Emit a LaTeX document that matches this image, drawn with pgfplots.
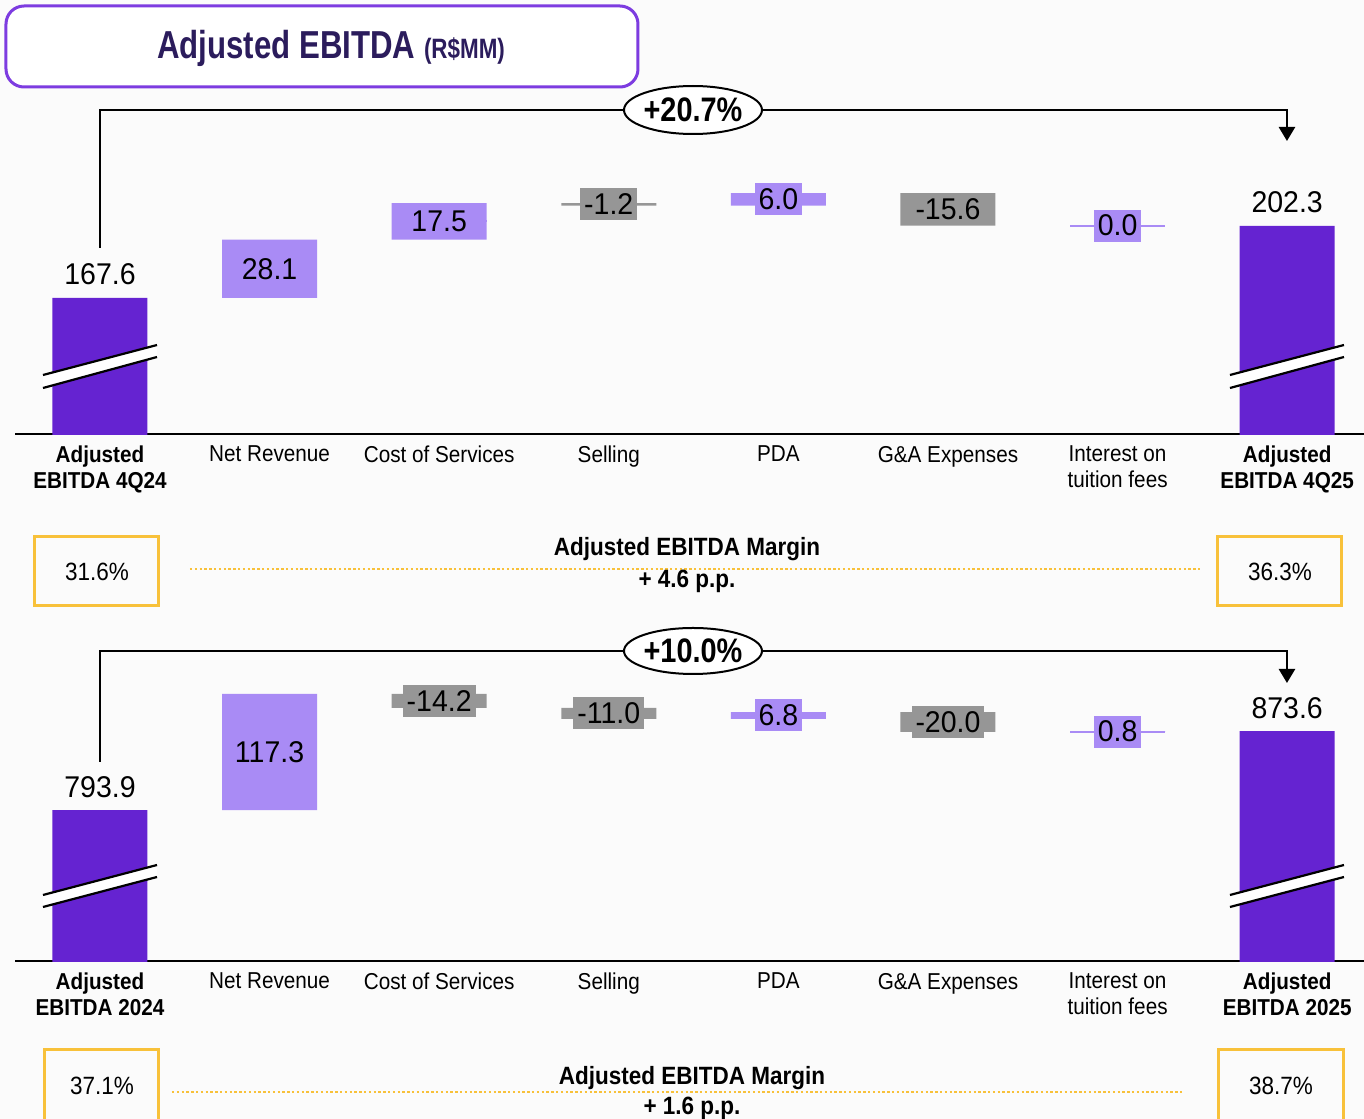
\documentclass[border=0pt]{standalone}
\usepackage{pgfplots}
\pgfplotsset{compat=1.18}
\usepackage{pgfplotstable}
\usepackage{fontspec}
\usetikzlibrary{arrows.meta}
\setmainfont{Liberation Sans}
\newfontfamily\valfamily[FakeStretch=0.95]{Liberation Sans}
\newfontfamily\catfamily[FakeStretch=0.9]{Liberation Sans}
\newfontfamily\headfamily[FakeStretch=0.8]{Liberation Sans}
\newfontfamily\pctfamily[FakeStretch=0.85]{Liberation Sans}

\definecolor{ebitda}{HTML}{6523D1}
\definecolor{gain}{HTML}{A98BF5}
\definecolor{loss}{HTML}{969696}
\definecolor{frame}{HTML}{7D3CE0}
\definecolor{headink}{HTML}{2B1C5C}
\definecolor{marginbox}{HTML}{F8C13A}
\definecolor{paper}{HTML}{FBFBFB}

% Quarter bridge, 4Q24 -> 4Q25 (R$MM): start = running level before each step
\pgfplotstableread{
x start delta total
0 0     0     167.6
1 167.6 28.1  0
2 195.7 17.5  0
3 213.2 -1.2  0
4 212.0 6.0   0
5 218.0 -15.6 0
6 202.4 0.0   0
7 0     0     202.3
}\quarterdata

% Full-year bridge, 2024 -> 2025 (R$MM)
\pgfplotstableread{
x start delta total
0 0     0     793.9
1 793.9 117.3 0
2 911.2 -14.2 0
3 897.0 -11.0 0
4 886.0 6.8   0
5 892.8 -20.0 0
6 872.8 0.8   0
7 0     0     873.6
}\yeardata

\newcommand\valfont{\valfamily\fontsize{15bp}{18bp}\selectfont}

\pgfplotsset{
  frame geometry/.style={
    scale only axis, width=674.5bp, anchor=south west,
    xmin=-0.501, xmax=7.453,
  },
  bridge/.style={
    frame geometry,
    ybar stacked, bar width=0.56, bar shift=0pt,
    axis x line*=bottom, axis y line=none,
    axis line style={line width=1bp, black},
    xtick={0,...,7}, major tick length=0pt,
    xticklabel style={align=center, text=black,
      font=\catfamily\fontsize{11.5bp}{13bp}\selectfont, yshift=-2.5bp},
  },
  labels/.style={
    frame geometry, hide axis, clip=false,
    /pgf/number format/fixed, /pgf/number format/fixed zerofill,
    /pgf/number format/precision=1, /pgf/number format/assume math mode=true,
  },
  step base/.style={draw=none, fill=none},
  step up/.style={draw=none, fill=gain},
  step down/.style={draw=none, fill=loss},
  step total/.style={draw=none, fill=ebitda},
  label layer/.style={only marks, mark=none, restrict y to domain=0:5000},
  step label/.style={label layer, nodes near coords,
    every node near coord/.append style={anchor=center, fill=#1, text=black,
      inner xsep=2bp, inner ysep=0pt, minimum height=16bp, font=\valfont}},
  total label/.style={label layer, nodes near coords,
    every node near coord/.append style={anchor=base, yshift=6.5bp,
      text=black, font=\valfont}},
}

% stacked pieces of one bridge: hidden base, rise, fall, totals
\newcommand\bridgebars[1]{%
  \addplot[step base]  table[x=x, y expr={\thisrow{start}+min(\thisrow{delta},0)}] {#1};
  \addplot[step up]    table[x=x, y expr={max(\thisrow{delta},0)}] {#1};
  \addplot[step down]  table[x=x, y expr={max(-1*(\thisrow{delta}),0)}] {#1};
  \addplot[step total] table[x=x, y=total] {#1};
}

% value labels of one bridge, placed mid-step and above the totals
\newcommand\bridgelabels[1]{%
  % flat rise steps still show as a thin line across the bar
  \addplot[label layer, error bars/.cd, x dir=both, x fixed=0.28, error mark=none,
      error bar style={draw=gain, line width=1bp}]
    table[x=x, y expr={ifthenelse(\thisrow{total}>0, -1e6,
      ifthenelse(\thisrow{delta}<0, -1e6, \thisrow{start}+0.5*(\thisrow{delta})))}] {#1};
  \addplot[step label=gain, point meta={\thisrow{delta}}]
    table[x=x, y expr={ifthenelse(\thisrow{total}>0, -1e6,
      ifthenelse(\thisrow{delta}<0, -1e6, \thisrow{start}+0.5*(\thisrow{delta})))}] {#1};
  \addplot[step label=loss, point meta={\thisrow{delta}}]
    table[x=x, y expr={ifthenelse(\thisrow{delta}<0, \thisrow{start}+0.5*(\thisrow{delta}), -1e6)}] {#1};
  \addplot[total label, point meta={\thisrow{total}}]
    table[x=x, y expr={ifthenelse(\thisrow{total}>0, \thisrow{total}, -1e6)}] {#1};
}

% axis break across a truncated total bar (centre x, baseline y, line offsets)
\newcommand\barbreak[6]{%
  \fill[white] (#1-57,#2-#3) -- (#1+57,#2-#4) -- (#1+57,#2-#6) -- (#1-57,#2-#5) -- cycle;
  \draw[line width=1.1bp] (#1-57,#2-#3) -- (#1+57,#2-#4);
  \draw[line width=1.1bp] (#1-57,#2-#5) -- (#1+57,#2-#6);
}

\begin{document}
\begin{tikzpicture}
\useasboundingbox (0,0) rectangle (682bp,-559.5bp);
\fill[paper] (0,0) rectangle (682bp,-559.5bp);

\begin{scope}[x=0.5bp, y=-0.5bp]
  \draw[frame, line width=1.5bp, fill=white, rounded corners=9bp] (6,6) rectangle (638,87);
  \node[headink, anchor=base, inner sep=0pt] at (331,58)
    {\headfamily\bfseries\fontsize{19.5bp}{22bp}\selectfont Adjusted EBITDA
     \fontsize{14bp}{16bp}\selectfont(R\$MM)};
\end{scope}

% ---- quarter bridge ----
\begin{axis}[bridge, at={(7.5bp,-217bp)}, height=162bp, ymin=102.2, ymax=258.0,
  xticklabels={{\textbf{Adjusted}\\\textbf{EBITDA 4Q24}}, Net Revenue, Cost of Services,
    Selling, PDA, G\&A Expenses, {Interest on\\tuition fees},
    {\textbf{Adjusted}\\\textbf{EBITDA 4Q25}}}]
  \bridgebars{\quarterdata}
\end{axis}

% ---- full-year bridge ----
\begin{axis}[bridge, at={(7.5bp,-480.5bp)}, height=155bp, ymin=641.4, ymax=954.5,
  xticklabels={{\textbf{Adjusted}\\\textbf{EBITDA 2024}}, Net Revenue, Cost of Services,
    Selling, PDA, G\&A Expenses, {Interest on\\tuition fees},
    {\textbf{Adjusted}\\\textbf{EBITDA 2025}}}]
  \bridgebars{\yeardata}
\end{axis}

\begin{scope}[x=0.5bp, y=-0.5bp]
  % truncated total bars
  \barbreak{100}{434}{59}{89}{46}{77}
  \barbreak{1287}{434}{59}{89}{46}{77}
  \barbreak{100}{961}{66}{96}{54}{84}
  \barbreak{1287}{961}{66}{96}{54}{84}
\end{scope}

% value labels on the same frames
\begin{axis}[labels, at={(7.5bp,-217bp)}, height=162bp, ymin=102.2, ymax=258.0]
  \bridgelabels{\quarterdata}
\end{axis}
\begin{axis}[labels, at={(7.5bp,-480.5bp)}, height=155bp, ymin=641.4, ymax=954.5]
  \bridgelabels{\yeardata}
\end{axis}

\begin{scope}[x=0.5bp, y=-0.5bp]
  % growth brackets
  \draw[line width=1.25bp, -{Triangle[width=8bp,length=7bp]}] (100,248) |- (1287,110) -- (1287,141);
  \draw[line width=1bp, fill=white] (693,110) ellipse [x radius=69, y radius=24];
  \node at (693,110) {\pctfamily\bfseries\fontsize{17bp}{20bp}\selectfont +20.7\%};

  \draw[line width=1.25bp, -{Triangle[width=8bp,length=7bp]}] (100,762) |- (1287,651) -- (1287,683);
  \draw[line width=1bp, fill=white] (693,651) ellipse [x radius=69, y radius=23];
  \node at (693,651) {\pctfamily\bfseries\fontsize{17bp}{20bp}\selectfont +10.0\%};

  % margin rows
  \draw[marginbox, line width=1.5bp] (35,537) rectangle (159,606);
  \draw[marginbox, line width=1.5bp] (1218,537) rectangle (1342,606);
  \draw[marginbox, line width=1bp, dash pattern=on 1.2bp off 1.2bp] (190,569) -- (1200,569);
  \begin{scope}[every node/.style={font=\catfamily\fontsize{12.5bp}{15bp}\selectfont}]
    \node at (97,572) {31.6\%};
    \node at (1280,572) {36.3\%};
    \node at (687,549) {\bfseries Adjusted EBITDA Margin};
    \node at (687,581) {\bfseries + 4.6 p.p.};
  \end{scope}

  \draw[marginbox, line width=1.5bp] (45,1050) rectangle (159,1140);
  \draw[marginbox, line width=1.5bp] (1219,1050) rectangle (1344,1140);
  \draw[marginbox, line width=1bp, dash pattern=on 1.2bp off 1.2bp] (172,1092) -- (1182,1092);
  \begin{scope}[every node/.style={font=\catfamily\fontsize{12.5bp}{15bp}\selectfont}]
    \node at (102,1086) {37.1\%};
    \node at (1281,1086) {38.7\%};
    \node at (692,1078) {\bfseries Adjusted EBITDA Margin};
    \node at (692,1108) {\bfseries + 1.6 p.p.};
  \end{scope}
\end{scope}
\end{tikzpicture}
\end{document}
